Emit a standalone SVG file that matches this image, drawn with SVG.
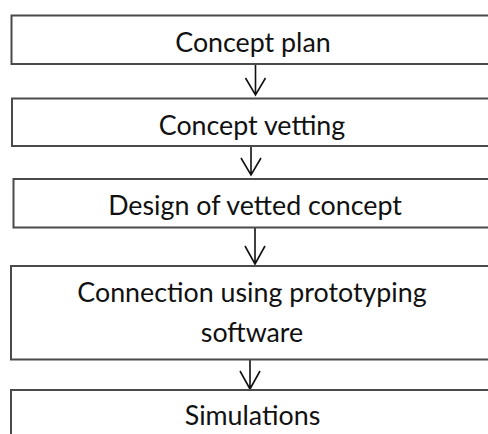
<svg xmlns="http://www.w3.org/2000/svg" width="488" height="434" viewBox="0 0 488 434">
  <defs>
    <style>
      .box { fill: #ffffff; stroke: #4a4a4a; stroke-width: 2; }
      .lbl { font-family: Lato, "Liberation Sans", sans-serif; font-size: 26.8px; fill: #111111; text-anchor: middle; }
      .conn { stroke: #111111; stroke-width: 1.6; fill: none; }
    </style>
  </defs>
  <rect x="0" y="0" width="488" height="434" fill="#ffffff"/>
  <g id="connectors">
    <path class="conn" d="M255.5,64 V95 M245.5,78 L255.5,95 L265.5,78"/>
    <path class="conn" d="M251,146 V175 M241,158 L251,175 L261,158"/>
    <path class="conn" d="M255,228 V264 M245,246 L255,264 L265,246"/>
    <path class="conn" d="M250,359 V389 M240,371 L250,389 L260,371"/>
  </g>
  <g id="node1">
    <rect class="box" x="11.5" y="15.5" width="490" height="48.5"/>
    <text class="lbl" x="253" y="52">Concept plan</text>
  </g>
  <g id="node2">
    <rect class="box" x="12" y="98.5" width="490" height="47.5"/>
    <text class="lbl" x="252" y="135">Concept vetting</text>
  </g>
  <g id="node3">
    <rect class="box" x="13.5" y="179" width="490" height="48.5"/>
    <text class="lbl" x="255" y="215">Design of vetted concept</text>
  </g>
  <g id="node4">
    <rect class="box" x="11" y="266" width="490" height="93.5"/>
    <text class="lbl" x="252" y="302">Connection using prototyping</text>
    <text class="lbl" x="252" y="342">software</text>
  </g>
  <g id="node5">
    <rect class="box" x="11" y="390" width="490" height="60"/>
    <text class="lbl" x="252.5" y="425">Simulations</text>
  </g>
</svg>
